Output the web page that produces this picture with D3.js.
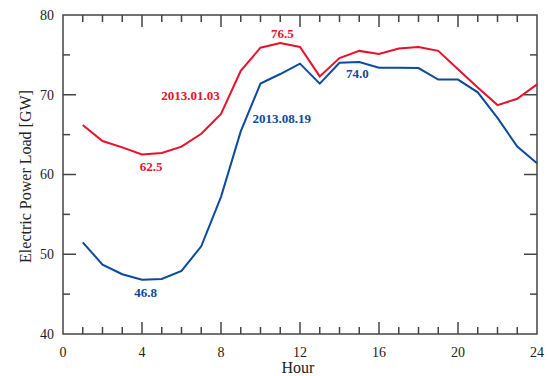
<!DOCTYPE html>
<html>
<head>
<meta charset="utf-8">
<script src="https://cdn.jsdelivr.net/npm/d3@7"></script>
<style>
  body { margin: 0; background: #fff; }
  svg { display: block; }
  text { font-family: "Liberation Serif", "Times New Roman", serif; }
</style>
</head>
<body>
<div id="chart"></div>
<script>
// hourly load, GW
var hours = [1,2,3,4,5,6,7,8,9,10,11,12,13,14,15,16,17,18,19,20,21,22,23,24];
var winter = [66.2,64.2,63.4,62.5,62.7,63.5,65.1,67.6,73.0,75.9,76.5,76.0,72.3,74.6,75.5,75.1,75.8,76.0,75.5,73.2,70.9,68.7,69.5,71.3];
var summer = [51.5,48.7,47.5,46.8,46.9,47.9,51.0,57.2,65.4,71.4,72.6,73.9,71.4,74.0,74.1,73.4,73.4,73.35,71.9,71.9,70.3,67.1,63.5,61.4];
var xTicks = [0,4,8,12,16,20,24];
var yTicks = [40,50,60,70,80];

var margin = {top: 15, right: 14, bottom: 42, left: 63},
    width = 551 - margin.left - margin.right,
    height = 376 - margin.top - margin.bottom;

var svg = d3.select("#chart")
  .append("svg")
    .attr("width", 551)
    .attr("height", 376)
  .append("g")
    .attr("transform", "translate(" + margin.left + "," + margin.top + ")");

var x = d3.scaleLinear().domain([0, 24]).range([0, width]);
var y = d3.scaleLinear().domain([40, 80]).range([height, 0]);

var axisColor = "#444";

// frame
svg.append("rect")
  .attr("width", width).attr("height", height)
  .attr("fill", "none").attr("stroke", axisColor).attr("stroke-width", 1.5);

// ticks, inside, on all four sides
var minorX = d3.range(0, 25, 1).filter(function (d) { return d % 4 !== 0; });
var minorY = d3.range(45, 80, 10);
var majorYin = [50, 60, 70];

function tickSet(cls, data, len, side) {
  svg.append("g").selectAll("line." + cls)
    .data(data).enter().append("line")
      .attr("x1", function (d) { return side === "b" || side === "t" ? x(d) : (side === "l" ? 0 : width); })
      .attr("x2", function (d) { return side === "b" || side === "t" ? x(d) : (side === "l" ? len : width - len); })
      .attr("y1", function (d) { return side === "l" || side === "r" ? y(d) : (side === "b" ? height : 0); })
      .attr("y2", function (d) { return side === "l" || side === "r" ? y(d) : (side === "b" ? height - len : len); })
      .attr("stroke", axisColor)
      .attr("stroke-width", 1.5);
}
tickSet("xb", xTicks.slice(1, -1), 12, "b");
tickSet("xbm", minorX, 7, "b");
tickSet("xt", xTicks.slice(1, -1), 12, "t");
tickSet("xtm", minorX, 7, "t");
tickSet("yl", majorYin, 13, "l");
tickSet("ylm", minorY, 7, "l");
tickSet("yr", majorYin, 13, "r");
tickSet("yrm", minorY, 7, "r");

// tick labels
svg.append("g").selectAll("text")
  .data(xTicks).enter().append("text")
    .attr("x", function (d) { return x(d); })
    .attr("y", height + 23)
    .attr("text-anchor", "middle")
    .attr("font-size", 14)
    .attr("fill", "#222")
    .text(function (d) { return d; });

svg.append("g").selectAll("text")
  .data(yTicks).enter().append("text")
    .attr("x", -9)
    .attr("y", function (d) { return y(d); })
    .attr("dy", "0.35em")
    .attr("text-anchor", "end")
    .attr("font-size", 14)
    .attr("fill", "#222")
    .text(function (d) { return d; });

// axis titles
svg.append("text")
  .attr("x", width / 2 - 2)
  .attr("y", height + 39)
  .attr("text-anchor", "middle")
  .attr("font-size", 16)
  .attr("fill", "#222")
  .text("Hour");

svg.append("text")
  .attr("transform", "rotate(-90)")
  .attr("x", -height / 2 - 2)
  .attr("y", -32)
  .attr("text-anchor", "middle")
  .attr("font-size", 16)
  .attr("fill", "#222")
  .text("Electric Power Load [GW]");

// lines
var red = "#e8102a", blue = "#0b4a9c";
var line = d3.line()
  .x(function (d) { return x(d[0]); })
  .y(function (d) { return y(d[1]); });

svg.append("path")
  .datum(d3.zip(hours, summer))
  .attr("fill", "none").attr("stroke", blue).attr("stroke-width", 2)
  .attr("d", line);

svg.append("path")
  .datum(d3.zip(hours, winter))
  .attr("fill", "none").attr("stroke", red).attr("stroke-width", 2)
  .attr("d", line);

// annotations
var notes = [
  {t: "76.5", h: 11, v: 76.5, dx: 2, dy: -5, c: red},
  {t: "62.5", h: 4, v: 62.5, dx: 9, dy: 16, c: red},
  {t: "2013.01.03", h: 6.46, v: 69.4, dx: 0, dy: 0, c: red},
  {t: "74.0", h: 15, v: 74.0, dx: -2, dy: 15, c: blue},
  {t: "46.8", h: 4, v: 46.8, dx: 3.5, dy: 17, c: blue},
  {t: "2013.08.19", h: 11.07, v: 66.45, dx: 0, dy: 0, c: blue}
];
svg.append("g").selectAll("text")
  .data(notes).enter().append("text")
    .attr("x", function (d) { return x(d.h) + d.dx; })
    .attr("y", function (d) { return y(d.v) + d.dy; })
    .attr("text-anchor", "middle")
    .attr("font-size", 13)
    .attr("font-weight", "bold")
    .attr("fill", function (d) { return d.c; })
    .text(function (d) { return d.t; });
</script>
</body>
</html>
